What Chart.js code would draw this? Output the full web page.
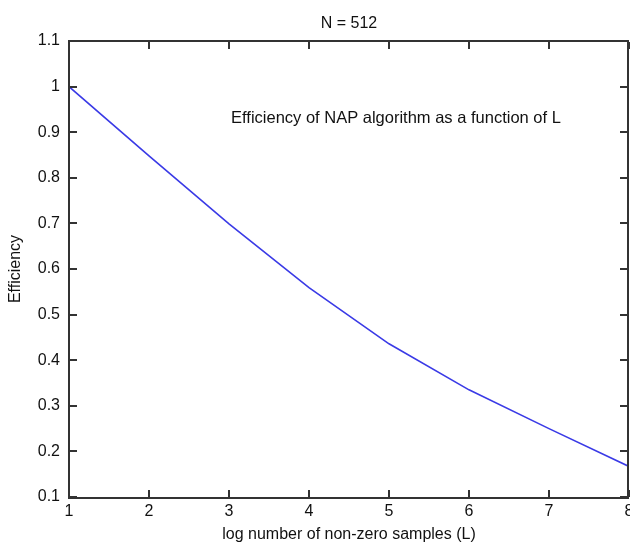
<!DOCTYPE html>
<html>
<head>
<meta charset="utf-8">
<script src="https://cdn.jsdelivr.net/npm/chart.js@4"></script>
<style>
  html, body { margin: 0; padding: 0; background: #fff; }
  #wrap { width: 630px; height: 550px; }
</style>
</head>
<body>
<div id="wrap"><canvas id="effChart" width="630" height="550"></canvas></div>
<script>
// dados
const lValues = [1, 2, 3, 4, 5, 6, 7, 8];
const efficiency = [1.0, 0.848, 0.699, 0.559, 0.436, 0.335, 0.25, 0.167];
const xTicks = [1, 2, 3, 4, 5, 6, 7, 8];
const yTicks = [0.1, 0.2, 0.3, 0.4, 0.5, 0.6, 0.7, 0.8, 0.9, 1.0, 1.1];

const FONT = '"Liberation Sans", Arial, sans-serif';

// caixa + marcas internas estilo MATLAB
const matlabBox = {
  id: 'matlabBox',
  afterDraw(chart) {
    const { ctx, chartArea: a, scales } = chart;
    const tl = 7, w = 2;
    const L = Math.round(a.left) - 1, R = Math.round(a.right) - 2;
    const T = Math.round(a.top) - 1, B = Math.round(a.bottom);
    ctx.save();
    ctx.fillStyle = '#333';
    ctx.fillRect(L, T, R - L + w, w);
    ctx.fillRect(L, B, R - L + w, w);
    ctx.fillRect(L, T, w, B - T + w);
    ctx.fillRect(R, T, w, B - T + w);
    xTicks.forEach(v => {
      const px = Math.round(scales.x.getPixelForValue(v)) - 1;
      ctx.fillRect(px, B - tl, w, tl);
      ctx.fillRect(px, T + w, w, tl);
    });
    yTicks.forEach(v => {
      const py = Math.round(scales.y.getPixelForValue(v)) - 1;
      ctx.fillRect(L + w, py, tl, w);
      ctx.fillRect(R - tl, py, tl, w);
    });

    ctx.fillStyle = '#111';
    ctx.font = '16px ' + FONT;
    ctx.textAlign = 'center';
    ctx.textBaseline = 'alphabetic';
    ctx.fillText('N = 512', (a.left + a.right) / 2, 28);

    ctx.font = '16.5px ' + FONT;
    ctx.textAlign = 'left';
    ctx.fillText('Efficiency of NAP algorithm as a function of L', 231, 123);
    ctx.restore();
  }
};

new Chart(document.getElementById('effChart'), {
  type: 'line',
  data: {
    datasets: [{
      data: lValues.map((x, i) => ({ x, y: efficiency[i] })),
      borderColor: '#3a3ae6',
      borderWidth: 1.6,
      pointRadius: 0,
      tension: 0,
      fill: false
    }]
  },
  options: {
    responsive: false,
    animation: false,
    layout: { padding: { top: 41, right: 1, left: 0, bottom: 0 } },
    plugins: { legend: { display: false }, tooltip: { enabled: false }, title: { display: false } },
    scales: {
      x: {
        type: 'linear', min: 1, max: 8,
        afterBuildTicks: s => { s.ticks = xTicks.map(v => ({ value: v })); },
        afterFit: s => { s.height = 53; s.paddingLeft = 0; s.paddingRight = 0; },
        grid: { display: false, drawTicks: false },
        border: { display: false },
        ticks: { color: '#111', font: { family: FONT, size: 16 }, padding: 5, maxRotation: 0 },
        title: { display: true, text: 'log number of non-zero samples (L)', color: '#111',
                 font: { family: FONT, size: 16 }, padding: { top: 0, bottom: 6 } }
      },
      y: {
        type: 'linear', min: 0.1, max: 1.1,
        afterBuildTicks: s => { s.ticks = yTicks.map(v => ({ value: v })); },
        afterFit: s => { s.width = 69; s.paddingTop = 0; s.paddingBottom = 0; },
        grid: { display: false, drawTicks: false },
        border: { display: false },
        ticks: { color: '#111', font: { family: FONT, size: 16 }, padding: 9,
                 callback: v => String(+v.toFixed(1)) },
        title: { display: true, text: 'Efficiency', color: '#111',
                 font: { family: FONT, size: 16 }, padding: { top: 6, bottom: 0 } }
      }
    }
  },
  plugins: [matlabBox]
});
</script>
</body>
</html>
